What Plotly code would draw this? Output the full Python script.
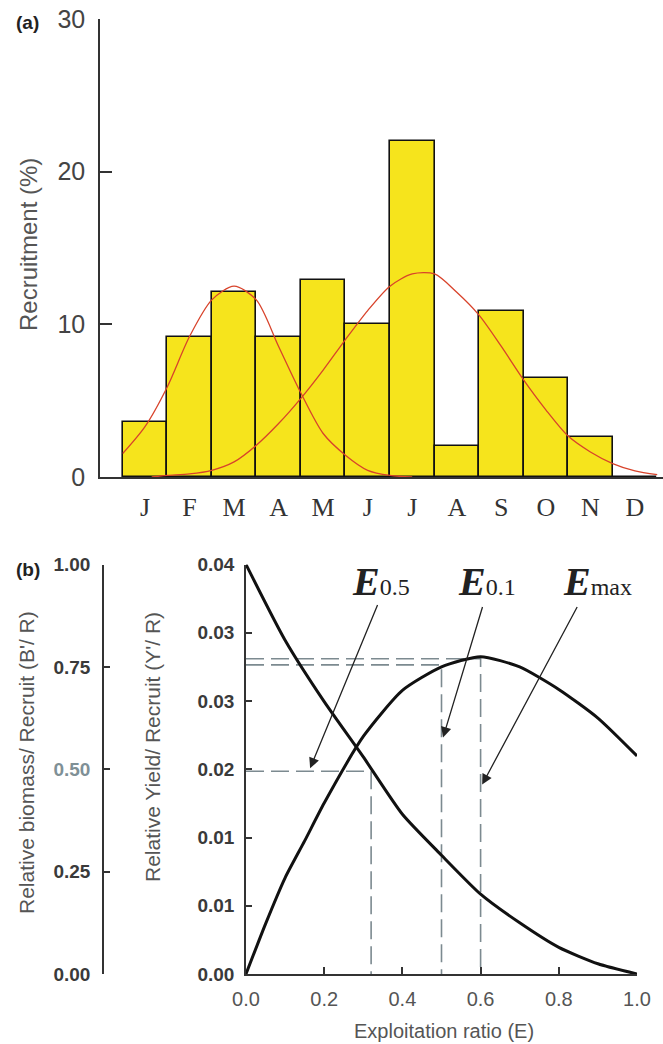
import plotly.graph_objects as go

# ---------------- data: panel (a) ----------------
months = ["J", "F", "M", "A", "M", "J", "J", "A", "S", "O", "N", "D"]
month_pos = list(range(12))
recruitment = [3.6, 9.2, 12.1, 9.2, 12.9, 10.0, 22.0, 2.0, 10.85, 6.5, 2.6, 0.0]

cohort1_x = [-0.5, 0, 0.5, 1, 1.5, 2, 2.5, 3, 3.5, 4, 4.5, 5, 5.5, 6.0]
cohort1_y = [1.54, 3.3, 5.9, 9.2, 11.6, 12.5, 11.6, 8.55, 5.5, 2.85, 1.43, 0.44, 0.1, 0.0]

cohort2_x = [0.15, 0.5, 1.0, 1.5, 2.0, 2.5, 3.0, 3.5, 4.0, 4.5, 5.0, 5.5, 6.0, 6.5,
             7.0, 7.5, 8.0, 8.5, 9.0, 9.5, 10.0, 10.5, 11.0, 11.5]
cohort2_y = [0.0, 0.1, 0.2, 0.44, 0.99, 2.08, 3.5, 5.15, 7.0, 9.0, 10.9, 12.5, 13.3, 13.3,
             12.1, 10.6, 8.55, 6.36, 4.4, 2.68, 1.64, 0.88, 0.4, 0.15]

# ---------------- data: panel (b) ----------------
E_bpr = [0, 0.1, 0.2, 0.3, 0.4, 0.5, 0.6, 0.7, 0.8, 0.9, 1.0]
bpr = [1.0, 0.815, 0.665, 0.53, 0.39, 0.29, 0.195, 0.125, 0.065, 0.025, 0.0]

E_ypr = [0, 0.05, 0.1, 0.15, 0.2, 0.3, 0.4, 0.5, 0.6, 0.7, 0.8, 0.9, 1.0]
ypr = [0, 0.0049, 0.0094, 0.013, 0.0167, 0.0232, 0.0277, 0.0300, 0.0310, 0.0300,
       0.0278, 0.0250, 0.0213]

ref_E = [0.32, 0.50, 0.60]            # E0.5, E0.1, Emax
ref_Y = [0.0198, 0.0302, 0.0308]

x2_ticks = [0, 0.2, 0.4, 0.6, 0.8, 1.0]
x2_ticktext = ["0.0", "0.2", "0.4", "0.6", "0.8", "1.0"]
y2_ticks = [0, 0.04 / 6, 0.08 / 6, 0.02, 0.16 / 6, 0.2 / 6, 0.04]
y2_ticktext = ["0.00", "0.01", "0.01", "0.02", "0.03", "0.03", "0.04"]
y3_ticks = [0, 0.25, 0.5, 0.75, 1.0]
y3_ticktext = ["0.00", "0.25", "0.50", "0.75", "1.00"]

W, H = 663, 1044
def px(x):
    return x / W
def py(y):
    return 1 - y / H

fig = go.Figure()

fig.add_trace(go.Bar(x=month_pos, y=recruitment, width=1.0,
                     marker=dict(color="#F6E41C", line=dict(color="#111111", width=1.6)),
                     xaxis="x", yaxis="y", showlegend=False))
fig.add_trace(go.Scatter(x=cohort1_x, y=cohort1_y, mode="lines",
                         line=dict(color="#D8432B", width=1.3, shape="spline", smoothing=0.8),
                         xaxis="x", yaxis="y", showlegend=False))
fig.add_trace(go.Scatter(x=cohort2_x, y=cohort2_y, mode="lines",
                         line=dict(color="#D8432B", width=1.3, shape="spline", smoothing=0.8),
                         xaxis="x", yaxis="y", showlegend=False))

dash_col = "#7C8A90"
for e, yv in zip(ref_E, ref_Y):
    fig.add_trace(go.Scatter(x=[0, e, e], y=[yv, yv, 0], mode="lines",
                             line=dict(color=dash_col, width=1.6, dash="18px,7px"),
                             xaxis="x2", yaxis="y2", showlegend=False))
fig.add_trace(go.Scatter(x=E_ypr, y=ypr, mode="lines",
                         line=dict(color="#111111", width=3, shape="spline", smoothing=0.6),
                         xaxis="x2", yaxis="y2", showlegend=False))
fig.add_trace(go.Scatter(x=E_bpr, y=bpr, mode="lines",
                         line=dict(color="#111111", width=3, shape="spline", smoothing=0.6),
                         xaxis="x2", yaxis="y3", showlegend=False))

axis_common = dict(showgrid=False, zeroline=False, showline=True, linecolor="#333333",
                   linewidth=1.5, tickcolor="#333333", automargin=False)
sans = "Liberation Sans, Arial, sans-serif"
serif = "Liberation Serif, Times New Roman, serif"

fig.update_layout(
    width=W, height=H, margin=dict(l=0, r=0, t=0, b=0, pad=0, autoexpand=False),
    paper_bgcolor="white", plot_bgcolor="white", showlegend=False, bargap=0,
    xaxis=dict(**axis_common, domain=[px(100), 1], range=[-1.01, 11.63], anchor="y",
               tickmode="array", tickvals=month_pos, ticktext=months, ticks="",
               ticklabelstandoff=6,
               tickfont=dict(family=serif, size=26, color="#333333")),
    yaxis=dict(**axis_common, domain=[py(477), py(19)], range=[0, 30], anchor="x",
               tickmode="array", tickvals=[0, 10, 20, 30], ticks="inside", ticklen=12, tickwidth=1.5,
               ticklabelstandoff=8,
               tickfont=dict(family=sans, size=25, color="#444444")),
    xaxis2=dict(**axis_common, domain=[px(246), px(637)], range=[0, 1], anchor="y2",
                tickmode="array", tickvals=x2_ticks, ticktext=x2_ticktext,
                ticks="inside", ticklen=7, tickwidth=1.5, ticklabelstandoff=6,
                tickfont=dict(family=sans, size=20, color="#555555")),
    yaxis2=dict(**axis_common, domain=[py(974), py(564.5)], range=[0, 0.04], anchor="x2",
                tickmode="array", tickvals=y2_ticks, ticktext=["<b>%s</b>" % t for t in y2_ticktext],
                ticks="inside", ticklen=6, tickwidth=1.5, ticklabelstandoff=6,
                tickfont=dict(family=sans, size=19, color="#3a3a3a")),
    yaxis3=dict(**axis_common, overlaying="y2", range=[0, 1], anchor="free", position=px(103),
                side="left", tickmode="array", tickvals=y3_ticks,
                ticktext=["<b>%s</b>" % t if t != "0.50" else "<b><span style='color:#7f9096'>%s</span></b>" % t
                          for t in y3_ticktext],
                ticks="inside", ticklen=6, tickwidth=1.5, ticklabelstandoff=8,
                tickfont=dict(family=sans, size=19, color="#3a3a3a")),
)

ann = []
def text_ann(x, y, text, size, color="#444444", angle=0, family=sans, xanchor="center"):
    ann.append(dict(x=px(x), y=py(y), xref="paper", yref="paper", text=text, showarrow=False,
                    textangle=angle, xanchor=xanchor, yanchor="middle",
                    font=dict(family=family, size=size, color=color)))

text_ann(14, 23, "<b>(a)</b>", 19, "#222222", xanchor="left")
text_ann(29, 245, "Recruitment (%)", 24, "#555555", angle=-90)
text_ann(14, 569, "<b>(b)</b>", 19, "#222222", xanchor="left")
text_ann(26, 763, "Relative biomass/ Recruit (B'/ R)", 21, "#555555", angle=-90)
text_ann(152, 747, "Relative Yield/ Recruit (Y'/ R)", 21, "#555555", angle=-90)
text_ann(444, 1031, "Exploitation ratio (E)", 20, "#555555")

label_px = [381, 487, 597]
subs = ["0.5", "0.1", "max"]
for lx, s in zip(label_px, subs):
    text_ann(lx, 581, "<b><i>E</i></b><span style='font-size:24px'>%s</span>" % s, 40, "#222222",
             family=serif)

arrow_tail_E = [0.338, 0.606, 0.849]
arrow_tail_Y = [0.0362, 0.0360, 0.0360]
arrow_tip_E = [0.164, 0.504, 0.604]
arrow_tip_Y = [0.0201, 0.0231, 0.0185]
for tx, ty, hx, hy in zip(arrow_tail_E, arrow_tail_Y, arrow_tip_E, arrow_tip_Y):
    ann.append(dict(x=hx, y=hy, ax=tx, ay=ty, xref="x2", yref="y2", axref="x2", ayref="y2",
                    text="", showarrow=True, arrowhead=2, arrowsize=1.6, arrowwidth=1.3,
                    arrowcolor="#222222", standoff=0))

fig.update_layout(annotations=ann)
fig.write_html("out.html", post_script="document.body.style.margin='0px';",
               config={"displayModeBar": False})
